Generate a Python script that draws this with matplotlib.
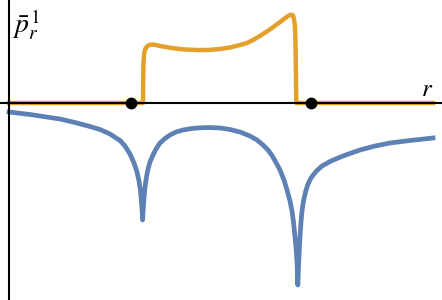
import matplotlib.pyplot as plt

plt.rcParams['mathtext.fontset'] = 'stix'

# values (r and p in the picture's own units)
blue_r = [0, 21, 41, 51, 66, 81, 91, 101, 111, 116,
          121, 125, 128, 130, 131.5, 132.5, 133.2, 133.6,
          134.2, 135, 136, 137.5, 139, 141, 144, 147, 151, 156,
          161, 167, 174, 183, 191, 201, 211, 221, 231, 241,
          248, 254, 259, 263, 267, 271, 275, 278, 281, 283,
          284.5, 286, 287.2, 288.2, 288.8,
          289.6, 290.3, 291, 292, 293, 294.5, 296.5, 299, 302, 305,
          308, 313, 321, 329, 338, 351, 366, 381, 401, 424]
blue_p = [-9, -11.5, -14.5, -16, -19.5, -23.5, -26.5, -31, -37.5, -43,
          -51, -60, -69, -78, -88, -99, -109, -117,
          -107, -95, -84, -74, -66, -59, -52, -46, -40, -35.5,
          -32, -29, -27, -25.5, -24.8, -24.5, -25, -26.5, -29, -33,
          -37, -42, -47, -52.5, -59.5, -67, -77, -87, -98, -108,
          -119, -134, -147, -162, -182,
          -162, -147, -134, -119, -108, -98, -89, -81, -75, -71,
          -67.5, -63, -58.5, -55, -51.5, -47, -43, -40, -37.5, -35]

orange_r = [0, 134, 134.2, 134.5, 135.2, 136.5, 138.5, 141, 144, 147,
            151, 166, 176, 188, 199, 211, 221, 231, 238, 244,
            250, 256, 262, 269, 273, 277, 279, 281, 282.5, 284,
            285, 285.8, 286.3, 286.7, 287, 287.3, 424]
orange_p = [0, 0, 23, 41, 50, 54.5, 57, 58.2, 58.5, 58,
            57, 54.5, 53.5, 53, 53, 54, 55.5, 58, 60, 63,
            66.5, 70.3, 74.3, 79.5, 82.5, 85.5, 87, 88, 88.3, 87.5,
            84, 78, 68, 48, 23, 0, 0]

dots_r = [121.5, 301.5]
dots_p = [0, 0]

fig = plt.figure(figsize=(4.42, 3.0), dpi=100)
ax = fig.add_axes([0, 0, 1, 1])
ax.set_xlim(-9, 433)
ax.set_ylim(-197, 103)
ax.axis('off')

ax.plot(blue_r, blue_p, color='#5E81B5', lw=3.4, solid_joinstyle='round', zorder=2)
ax.plot(orange_r, orange_p, color='#E3A02A', lw=3.2, solid_joinstyle='round', zorder=2)

# axes through the origin
ax.axhline(0, color='black', lw=1.5, zorder=3)
ax.axvline(0, color='black', lw=1.5, zorder=3)

ax.plot(dots_r, dots_p, 'o', color='black', ms=7.5, zorder=4)

ax.text(0.027, 0.975, r'$\bar{p}_r^{\,1}$', fontsize=20, ha='left', va='top',
        transform=ax.transAxes)
ax.text(0.967, 0.665, r'$r$', fontsize=18, ha='center', va='bottom',
        transform=ax.transAxes)

fig.savefig('out.png', dpi=100)
